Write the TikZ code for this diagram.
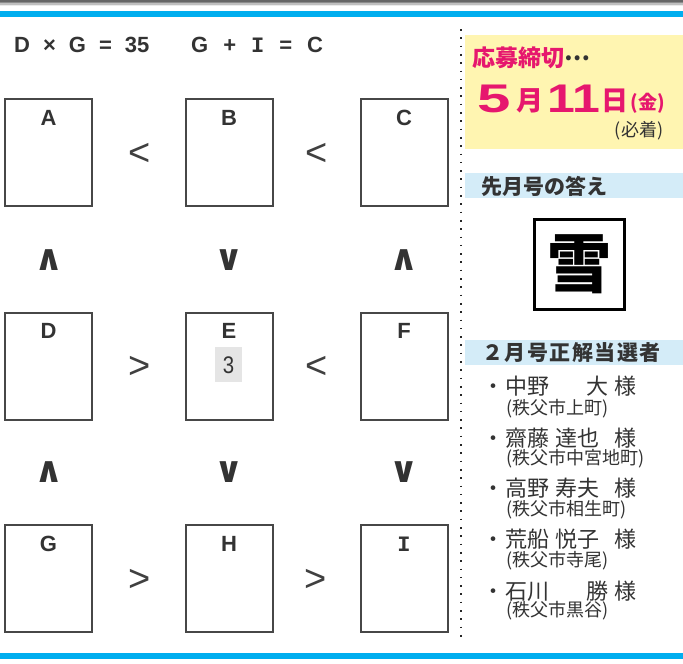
\documentclass[tikz,border=0pt]{standalone}
\usepackage{fontspec}
\setmainfont{Liberation Sans}
\newfontfamily\jp{Noto Sans CJK JP}
\newfontfamily\djv{DejaVu Sans}
\newfontfamily\lmono{Liberation Mono}
\definecolor{skyblue}{HTML}{00AEEF}
\definecolor{pastelyellow}{HTML}{FFF5B1}
\definecolor{paleblue}{HTML}{D4ECF8}
\definecolor{hotpink}{HTML}{E6176E}
\definecolor{ink}{HTML}{333333}
\begin{document}
\begin{tikzpicture}[x=1pt,y=-1pt,
  cell/.style={draw=black!72, line width=2pt, minimum width=87pt, minimum height=107pt, inner sep=0pt},
  lab/.style={font=\fontsize{22}{22}\selectfont\bfseries, text=black!80, inner sep=0pt},
  cmp/.style={font=\fontsize{38}{38}\selectfont, text=black!75, inner sep=0pt},
  vcmp/.style={font=\djv\fontsize{36}{36}\selectfont\bfseries, text=black!80, inner sep=0pt},
  eq/.style={font=\fontsize{22}{22}\selectfont\bfseries, text=black!80, inner sep=0pt, anchor=west},
  hdr/.style={font=\jp\bfseries\fontsize{21}{21}\selectfont, text=ink, inner sep=0pt, anchor=west},
  nm/.style={font=\jp\fontsize{22}{22}\selectfont, text=ink, inner sep=0pt, anchor=base},
  addr/.style={font=\jp\fontsize{18}{18}\selectfont, text=ink, inner sep=0pt, anchor=west},
  big/.style={text=hotpink, inner sep=0pt, anchor=base},
  dotline/.style={line width=1.6pt, dash pattern=on 1.6pt off 6.7pt, black!85}
]
\useasboundingbox (0,0) rectangle (683,664);
\fill[white] (0,0) rectangle (683,664);
% top gray band
\fill[black!60] (0,0) rectangle (683,1.5);
\fill[black!45] (0,1.5) rectangle (683,3);
\fill[black!25] (0,3) rectangle (683,4.5);
\fill[black!8] (0,4.5) rectangle (683,6);
% blue rules
\fill[skyblue] (0,11) rectangle (683,16.5);
\fill[skyblue] (0,653) rectangle (683,658.5);
% dotted separator
\coordinate (dtop) at (461,29);
\coordinate (dbot) at (461,640);
\draw[dotline] (dtop) -- (dbot);

% equations
\node[eq] (eq1) at (14,45) {D\hspace{13pt}×\hspace{13pt}G\hspace{13pt}=\hspace{13pt}35};
\node[eq] (eq2) at (191,45) {G\hspace{15pt}+\hspace{15pt}{\lmono I}\hspace{15pt}=\hspace{15pt}C};

% boxes
\node[cell] (A) at (48.5,152.5) {};
\node[cell] (B) at (229,152.5) {};
\node[cell] (C) at (404,152.5) {};
\node[cell] (D) at (48.5,366) {};
\node[cell] (E) at (229,366) {};
\node[cell] (F) at (404,366) {};
\node[cell] (G) at (48.5,578.5) {};
\node[cell] (H) at (229,578.5) {};
\node[cell] (I) at (404,578.5) {};
% letters
\node[lab] (lA) at (48.5,118) {A};
\node[lab] (lB) at (229,118) {B};
\node[lab] (lC) at (404,118) {C};
\node[lab] (lD) at (48.5,331) {D};
\node[lab] (lE) at (229,331) {E};
\node[lab] (lF) at (404,331) {F};
\node[lab] (lG) at (48.5,544) {G};
\node[lab] (lH) at (229,544) {H};
\node[lab] (lI) at (404,544) {\lmono I};
% given value
\node[fill=black!10, minimum width=27pt, minimum height=35pt, inner sep=0pt] (e3bg) at (228.5,364.5) {};
\node[font=\fontsize{24}{24}\selectfont, text=black!80, inner sep=0pt] (e3) at (228.5,365) {\scalebox{0.85}[1]{3}};
% horizontal relations
\node[cmp] (r1) at (140,154) {<};
\node[cmp] (r2) at (317,154) {<};
\node[cmp] (r3) at (140,367) {>};
\node[cmp] (r4) at (317,367) {<};
\node[cmp] (r5) at (140,580) {>};
\node[cmp] (r6) at (316,580) {>};
% vertical relations
\node[vcmp] (u1) at (49,260) {∧};
\node[vcmp] (u2) at (229,260) {∨};
\node[vcmp] (u3) at (404,260) {∧};
\node[vcmp] (u4) at (49,472) {∧};
\node[vcmp] (u5) at (229,472) {∨};
\node[vcmp] (u6) at (404,472) {∨};

% deadline panel
\fill[pastelyellow] (465,35) rectangle (683,149);
\node[font=\jp\bfseries\fontsize{23}{23}\selectfont, text=hotpink, inner sep=0pt, anchor=west] (dl) at (472,58) {応募締切{\color{ink}\raisebox{6pt}{…}}};
\node[big, font=\bfseries\fontsize{40}{40}\selectfont] (d5) at (494,112) {\scalebox{1.5}[1]{5}};
\node[big, font=\jp\bfseries\fontsize{27}{27}\selectfont] (dm) at (530,110) {月};
\node[big, font=\bfseries\fontsize{40}{40}\selectfont] (d11) at (574,112) {\scalebox{1.25}[1]{11}};
\node[big, font=\jp\bfseries\fontsize{27}{27}\selectfont] (dd) at (614.5,110) {日};
\node[big, font=\jp\bfseries\fontsize{19}{19}\selectfont] (dk) at (648,109) {(金)};
\node[font=\jp\fontsize{18}{18}\selectfont, text=ink, inner sep=0pt] (hc) at (639,131) {(必着)};

% last month's answer
\fill[paleblue] (465,173) rectangle (683,198);
\node[hdr] (h1) at (481,186) {先月号の答え};
\node[draw=black, line width=3pt, minimum width=90pt, minimum height=90pt, inner sep=0pt,
      font=\jp\bfseries\fontsize{64}{64}\selectfont] (ans) at (579.5,264.5) {雪};

% winners
\fill[paleblue] (465,340) rectangle (683,365);
\node[hdr] (h2) at (482,353) {２\hspace{1.5pt}月\hspace{1.5pt}号\hspace{1.5pt}正\hspace{1.5pt}解\hspace{1.5pt}当\hspace{1.5pt}選\hspace{1.5pt}者};

\node[nm] (b1) at (493,394) {・};
\node[nm] (s1) at (527.5,394) {中野};
\node[nm] (g1) at (597,394) {大};
\node[nm] (t1) at (625,394) {様};
\node[addr] (a1) at (506,409) {(秩父市上町)};

\node[nm] (b2) at (493,446) {・};
\node[nm] (s2) at (527.5,446) {齋藤};
\node[nm] (g2) at (577,446) {達也};
\node[nm] (t2) at (625,446) {様};
\node[addr] (a2) at (506,459) {(秩父市中宮地町)};

\node[nm] (b3) at (493,496) {・};
\node[nm] (s3) at (527.5,496) {高野};
\node[nm] (g3) at (577,496) {寿夫};
\node[nm] (t3) at (625,496) {様};
\node[addr] (a3) at (506,510) {(秩父市相生町)};

\node[nm] (b4) at (493,547) {・};
\node[nm] (s4) at (527.5,547) {荒船};
\node[nm] (g4) at (577,547) {悦子};
\node[nm] (t4) at (625,547) {様};
\node[addr] (a4) at (506,561) {(秩父市寺尾)};

\node[nm] (b5) at (493,599) {・};
\node[nm] (s5) at (527.5,599) {石川};
\node[nm] (g5) at (597,599) {勝};
\node[nm] (t5) at (625,599) {様};
\node[addr] (a5) at (506,611) {(秩父市黒谷)};
\end{tikzpicture}
\end{document}
